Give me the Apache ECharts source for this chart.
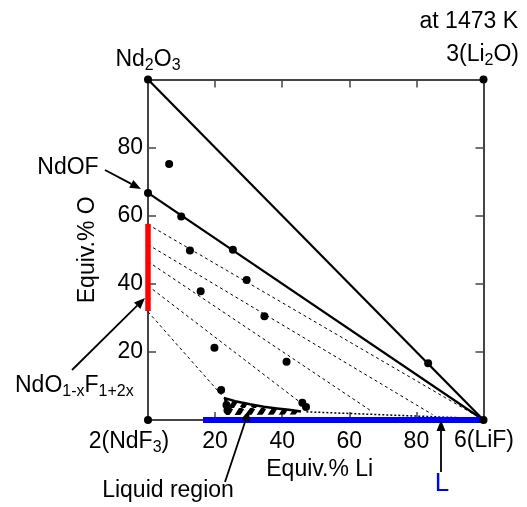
<!DOCTYPE html>
<html>
<head>
<meta charset="utf-8">
<script src="https://cdn.jsdelivr.net/npm/echarts@6/dist/echarts.min.js"></script>
<style>
html, body { margin: 0; padding: 0; background: #fff; }
#chart { width: 527px; height: 507px; }
</style>
</head>
<body>
<div id="chart"></div>
<script>
// composition axes (equiv.%)
const liTicks = [0, 20, 40, 60, 80, 100];
const oTicks = [0, 20, 40, 60, 80, 100];

// solid phase boundaries: Nd2O3-LiF and NdOF-LiF
const triangleEdges = [
    [[0, 100], [100, 0]],
    [[0, 66.7], [100, 0]]
];

// dashed tie lines from NdO1-xF1+2x to the liquid
const tieLines = [
    [[0, 57.4], [99.0, 0.6]],
    [[0, 51.5], [84.8, 1.6]],
    [[0, 46.5], [66.6, 2.6]],
    [[0, 39.4], [45.6, 5.0]],
    [[0, 31.8], [22.4, 6.8]]
];

// dotted liquidus towards LiF
const liquidusLine = [[47.2, 2.4], [100, 0.4]];

// measured compositions
const samplePoints = [
    [6.3, 75.2], [9.9, 59.8], [12.5, 49.8], [25.3, 50.0], [29.4, 41.1],
    [15.7, 37.8], [34.7, 30.5], [19.8, 21.2], [41.3, 17.1], [21.8, 8.8],
    [23.4, 4.4], [23.7, 2.9], [46.0, 5.1], [47.1, 3.8], [83.5, 16.7]
];
const cornerPoints = [[0, 0], [0, 100], [100, 100], [0, 66.7], [100, 0]];

// solid solution range (red) and liquid L range (blue)
const solidSolution = [[0, 32.0], [0, 57.6]];
const liquidRange = [[16.4, 0], [100, 0]];

// liquid region outline
const liquidTop = [[22.6, 6.5], [26.0, 5.5], [30.4, 4.6], [34.5, 3.9], [38.4, 3.4], [42.0, 3.0], [45.6, 2.5]];
const liquidBottom = [[45.6, 1.6], [23.2, 1.5]];

const FONT = "Liberation Sans";
const FS = 23;

// stripe pattern for the liquid region
function hatch() {
    const w = 11, h = 17;
    const c = document.createElement("canvas");
    c.width = w; c.height = h;
    const ctx = c.getContext("2d");
    ctx.strokeStyle = "#000";
    ctx.lineWidth = 5;
    [-w, 0, w].forEach(dx => {
        ctx.beginPath();
        ctx.moveTo(dx, h);
        ctx.lineTo(dx + w, 0);
        ctx.stroke();
    });
    return c;
}

const rich = {
    m: { fontSize: FS, fontFamily: FONT, color: "#000" },
    s: { fontSize: 16, fontFamily: FONT, color: "#000", padding: [12, 0, 0, 0] }
};

function label(x, y, text, align, extra) {
    return Object.assign({
        type: "text", x: x, y: y, z: 10,
        style: { text: text, rich: rich, align: align || "center", verticalAlign: "middle", fontSize: FS, fontFamily: FONT, fill: "#000" }
    }, extra || {});
}

function arrow(x1, y1, x2, y2, color) {
    const a = Math.atan2(y2 - y1, x2 - x1);
    const len = 11, half = 4.5;
    const bx = x2 - len * Math.cos(a), by = y2 - len * Math.sin(a);
    const px = -Math.sin(a) * half, py = Math.cos(a) * half;
    return [
        { type: "line", z: 10, shape: { x1: x1, y1: y1, x2: bx, y2: by }, style: { stroke: color, lineWidth: 1.8 } },
        { type: "polygon", z: 10, shape: { points: [[x2, y2], [bx + px, by + py], [bx - px, by - py]] }, style: { fill: color } }
    ];
}

const axisLine = { show: true, onZero: false, lineStyle: { color: "#444", width: 2 } };
const axisTick = { show: true, inside: true, length: 8, lineStyle: { color: "#444", width: 1.5 } };

function lineSeries(data, style) {
    return {
        type: "line", data: data, symbol: "none", clip: false, silent: true,
        lineStyle: style, z: 3
    };
}

const series = [];
triangleEdges.forEach(d => series.push(lineSeries(d, { color: "#000", width: 2.2 })));
tieLines.forEach(d => series.push(lineSeries(d, { color: "#000", width: 1, type: [3, 3] })));
series.push(lineSeries(liquidusLine, { color: "#000", width: 1.5, type: [2, 2] }));
series.push({
    type: "custom", clip: false, z: 4, silent: true,
    data: [0],
    renderItem(params, api) {
        const top = liquidTop.map(p => api.coord(p));
        const poly = top.concat(liquidBottom.map(p => api.coord(p)));
        return {
            type: "group",
            children: [
                { type: "polygon", shape: { points: poly }, style: { fill: { image: hatch(), repeat: "repeat" } } },
                { type: "polyline", shape: { points: top }, style: { stroke: "#000", lineWidth: 2.5, fill: null } }
            ]
        };
    }
});
series.push(lineSeries(solidSolution, { color: "#ff0000", width: 5.5 }));
series.push(lineSeries(liquidRange, { color: "#0000ff", width: 6 }));
series.push({
    type: "scatter", data: samplePoints.concat(cornerPoints), symbolSize: 8, clip: false, z: 6,
    itemStyle: { color: "#000", opacity: 1 }, silent: true
});

const graphics = [
    label(148, 60, "{m|Nd}{s|2}{m|O}{s|3}"),
    label(518, 22, "at 1473 K", "right"),
    label(519, 55, "{m|3(Li}{s|2}{m|O)}", "right"),
    label(68, 168, "NdOF"),
    label(15, 386, "{m|NdO}{s|1-x}{m|F}{s|1+2x}", "left"),
    label(129, 442, "{m|2(NdF}{s|3}{m|)}"),
    label(484, 441, "6(LiF)"),
    label(168, 491, "Liquid region"),
    label(442, 484, "L", "center", { style: { text: "L", align: "center", verticalAlign: "middle", fontSize: 26, fontFamily: FONT, fill: "#0000ff" } })
].concat(
    arrow(105, 170, 141, 189, "#000"),
    arrow(72, 370, 145, 298, "#000"),
    arrow(225, 482, 249, 410, "#000"),
    arrow(441, 472, 441, 420, "#000")
);

const chart = echarts.init(document.getElementById("chart"), null, { renderer: "canvas" });
chart.setOption({
    animation: false,
    backgroundColor: "#fff",
    grid: { left: 148, right: 43.5, top: 79.5, bottom: 87 },
    xAxis: [
        {
            type: "value", min: liTicks[0], max: liTicks[liTicks.length - 1], interval: 20,
            name: "Equiv.% Li", nameLocation: "middle", nameGap: 37,
            nameTextStyle: { fontSize: FS, fontFamily: FONT, color: "#000", padding: [0, 0, 0, 8] },
            axisLine: axisLine, axisTick: axisTick, splitLine: { show: false },
            axisLabel: {
                margin: 10, fontSize: FS, fontFamily: FONT, color: "#000",
                formatter: v => (v > liTicks[0] && v < liTicks[liTicks.length - 1]) ? String(v) : ""
            }
        },
        {
            type: "value", position: "top", min: liTicks[0], max: liTicks[liTicks.length - 1], interval: 20,
            axisLine: axisLine, axisTick: axisTick, axisLabel: { show: false }, splitLine: { show: false }
        }
    ],
    yAxis: [
        {
            type: "value", min: oTicks[0], max: oTicks[oTicks.length - 1], interval: 20,
            name: "Equiv.% O", nameLocation: "middle", nameGap: 49,
            nameTextStyle: { fontSize: FS, fontFamily: FONT, color: "#000" },
            axisLine: axisLine, axisTick: axisTick, splitLine: { show: false },
            axisLabel: {
                margin: 5, fontSize: FS, fontFamily: FONT, color: "#000",
                formatter: v => (v > oTicks[0] && v < oTicks[oTicks.length - 1]) ? String(v) : ""
            }
        },
        {
            type: "value", position: "right", min: oTicks[0], max: oTicks[oTicks.length - 1], interval: 20,
            axisLine: axisLine, axisTick: axisTick, axisLabel: { show: false }, splitLine: { show: false }
        }
    ],
    series: series,
    graphic: graphics
});
</script>
</body>
</html>
